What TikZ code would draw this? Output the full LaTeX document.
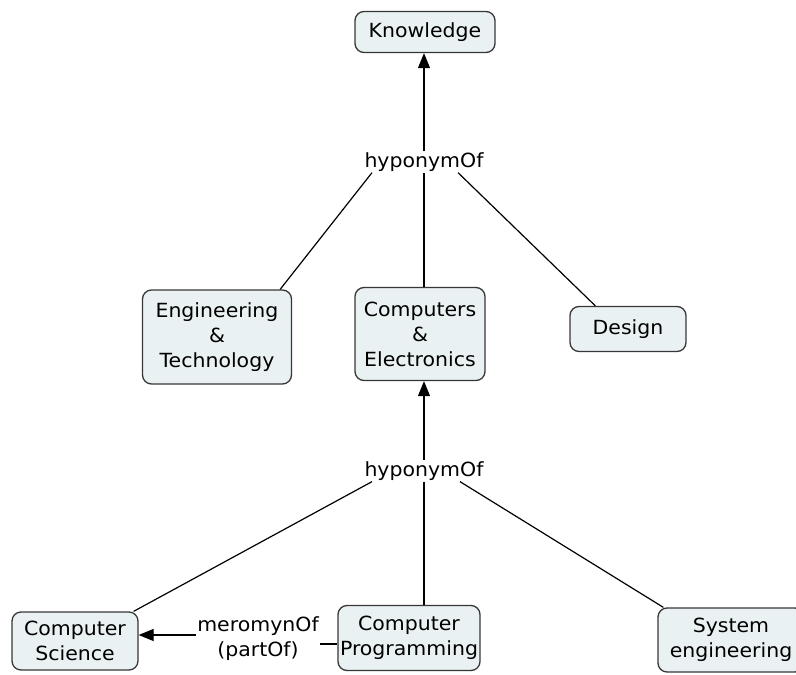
\documentclass[tikz,border=0pt]{standalone}
\usepackage{fontspec}
\setmainfont[FakeStretch=1.05]{DejaVu Sans}
\usetikzlibrary{arrows.meta,positioning,calc}
\definecolor{conceptfill}{RGB}{234,241,242}
\definecolor{conceptline}{RGB}{55,55,55}

\begin{document}
\begin{tikzpicture}[x=1pt,y=-1pt,
  concept/.style={draw=conceptline, line width=1.3pt, fill=conceptfill, rounded corners=9pt,
    align=center, inner sep=2pt, font=\fontsize{19.5}{25}\selectfont},
  linkword/.style={align=center, inner sep=1pt, font=\fontsize{19.5}{25}\selectfont},
  link/.style={line width=1.2pt},
  linkto/.style={line width=1.2pt, -{Triangle[width=12pt,length=15pt]}}]
\useasboundingbox (0,0) rectangle (796,675);

% Concepts
\node[concept, minimum width=140, minimum height=41] (know) at (425,32) {Knowledge};
\node[concept, minimum width=149, minimum height=94] (eng) at (217,337) {Engineering\\\&\\Technology};
\node[concept, minimum width=130, minimum height=93] (ce) at (420,334) {Computers\\\&\\Electronics};
\node[concept, minimum width=116, minimum height=45] (design) at (628,329) {Design};
\node[concept, minimum width=126, minimum height=58] (cs) at (75,641) {Computer\\Science};
\node[concept, minimum width=138, minimum height=65] (cp) at (409,638) {Computer\\Programming};
\node[concept, minimum width=146, minimum height=64] (se) at (731,640) {System\\engineering};

% Linking phrases
\node[linkword] (hyp1) at (424,162) {hyponymOf};
\node[linkword] (hyp2) at (424,471) {hyponymOf};
\node[linkword] (mero) at (258,639) {meromynOf\\(partOf)};

% Upper level
\draw[linkto] (hyp1.north) -- (hyp1.north |- know.south);
\draw[link] ([xshift=-52pt]hyp1.south) -- ([xshift=-12pt]eng.north east);
\draw[link] (hyp1.south) -- (hyp1.south |- ce.north);
\draw[link] ([xshift=34pt]hyp1.south) -- ([xshift=26pt]design.north west);

% Lower level
\draw[linkto] (hyp2.north) -- (hyp2.north |- ce.south);
\draw[link] ([xshift=-52pt]hyp2.south) -- ([xshift=-5pt]cs.north east);
\draw[link] (hyp2.south) -- (hyp2.south |- cp.north);
\draw[link] ([xshift=36pt]hyp2.south) -- ([xshift=6pt]se.north west);

% Part-of relation
\draw[link] ([yshift=-6pt]cp.west) -- ([yshift=-6pt]cp.west -| mero.east);
\draw[linkto] ([yshift=4pt]mero.west) -- ([yshift=4pt]mero.west -| cs.east);

\end{tikzpicture}
\end{document}
